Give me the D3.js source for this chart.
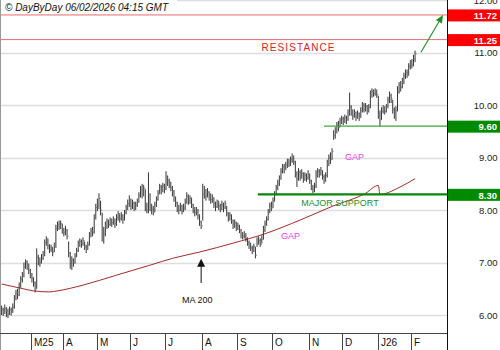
<!DOCTYPE html>
<html><head><meta charset="utf-8">
<script src="https://cdn.jsdelivr.net/npm/d3@7"></script>
<style>
body{margin:0;background:#fff}
svg{display:block}
text{font-family:"Liberation Sans",Arial,Helvetica,sans-serif}
</style>
</head><body>
<svg id="c" width="500" height="350"></svg>
<script>
// ---- data ----
const closes = [
6.10,6.05,6.12,6.08,6.02,6.10,6.06,6.15,6.30,6.42,
6.38,6.55,6.68,6.74,6.92,7.02,6.95,6.85,6.78,6.70,
6.62,6.50,7.10,7.05,7.00,7.08,7.15,7.38,7.45,7.32,
7.25,7.28,7.20,7.30,7.65,7.72,7.68,7.74,7.62,7.58,
7.62,7.50,7.18,6.95,7.05,7.00,7.12,7.22,7.35,7.40,
7.36,7.42,7.30,7.26,7.34,7.52,7.60,7.58,7.85,8.05,
8.10,8.22,8.00,7.62,7.55,7.70,7.78,7.72,7.80,7.76,
7.82,7.74,7.86,7.92,7.84,7.90,7.82,7.94,8.05,8.12,
8.20,8.08,8.14,8.04,8.10,8.16,8.28,8.38,8.30,8.42,
8.10,8.00,8.30,8.08,8.02,7.96,8.10,8.20,8.32,8.44,
8.36,8.46,8.40,8.62,8.56,8.50,8.42,8.36,8.24,8.14,
8.04,8.00,8.08,7.98,8.04,8.16,8.26,8.18,8.22,8.10,
8.02,7.96,8.00,7.90,7.78,7.70,8.30,8.38,8.26,8.34,
8.28,8.20,8.24,8.12,8.06,8.14,8.08,8.02,8.10,8.04,
8.12,7.94,7.86,7.90,7.80,7.72,7.76,7.66,7.70,7.62,
7.54,7.50,7.55,7.46,7.38,7.34,7.28,7.24,7.30,7.14,
7.36,7.42,7.34,7.44,7.62,7.74,7.82,7.96,8.08,8.04,
8.18,8.30,8.42,8.50,8.60,8.74,8.82,8.78,8.86,8.92,
8.88,8.96,9.00,8.92,8.70,8.60,8.72,8.64,8.70,8.58,
8.66,8.62,8.68,8.56,8.44,8.40,8.46,8.66,8.74,8.70,
8.76,8.64,8.58,8.66,8.88,9.00,8.96,9.12,9.42,9.50,
9.62,9.58,9.70,9.74,9.68,9.76,9.72,9.86,9.96,9.88,
9.80,9.86,9.78,9.84,9.76,9.90,10.00,9.92,9.98,9.88,
9.96,10.20,10.26,10.22,10.28,10.20,9.82,9.72,9.88,9.94,
9.88,9.96,10.10,10.18,10.12,9.92,9.80,9.90,10.26,10.38,
10.34,10.44,10.56,10.62,10.58,10.74,10.80,10.76,10.88,10.98];
const highs = [
6.18,6.14,6.20,6.15,6.12,6.16,6.14,6.22,6.38,6.48,
6.50,6.62,6.74,6.82,7.00,7.06,7.04,6.98,6.88,6.80,
6.72,6.64,7.27,7.15,7.10,7.16,7.22,7.44,7.50,7.46,
7.35,7.34,7.30,7.38,7.72,7.78,7.80,7.80,7.74,7.66,
7.70,7.64,7.40,7.20,7.12,7.08,7.18,7.28,7.42,7.46,
7.44,7.48,7.40,7.34,7.40,7.58,7.66,7.68,7.92,8.12,
8.22,8.32,8.18,7.95,7.68,7.78,7.84,7.82,7.86,7.84,
7.88,7.84,7.92,7.98,7.94,7.96,7.92,8.00,8.10,8.20,
8.28,8.22,8.20,8.16,8.16,8.22,8.34,8.46,8.50,8.48,
8.40,8.14,8.72,8.32,8.12,8.08,8.16,8.26,8.38,8.50,
8.48,8.52,8.50,8.74,8.66,8.60,8.54,8.46,8.38,8.26,
8.16,8.10,8.14,8.10,8.12,8.22,8.34,8.30,8.28,8.24,
8.12,8.06,8.06,8.02,7.92,7.80,8.50,8.46,8.40,8.42,
8.36,8.32,8.30,8.24,8.16,8.20,8.18,8.12,8.18,8.14,
8.18,8.08,7.96,7.96,7.92,7.82,7.82,7.78,7.76,7.72,
7.64,7.58,7.60,7.56,7.48,7.42,7.38,7.32,7.36,7.30,
7.48,7.50,7.46,7.52,7.70,7.80,7.88,8.02,8.14,8.16,
8.24,8.36,8.48,8.58,8.66,8.80,8.88,8.88,8.92,8.98,
8.98,9.02,9.08,9.04,8.94,8.74,8.80,8.76,8.78,8.72,
8.72,8.70,8.76,8.70,8.58,8.48,8.52,8.76,8.80,8.78,
8.82,8.76,8.68,8.72,8.96,9.06,9.10,9.18,9.52,9.58,
9.68,9.70,9.76,9.80,9.78,9.82,9.80,9.92,10.24,10.00,
9.92,9.92,9.88,9.90,9.86,9.96,10.06,10.04,10.04,10.00,
10.02,10.28,10.32,10.30,10.32,10.30,10.18,9.90,9.96,10.00,
9.98,10.02,10.16,10.26,10.22,10.10,9.96,9.98,10.36,10.44,
10.46,10.52,10.62,10.68,10.68,10.80,10.86,10.88,10.96,11.04];
const lows = [
6.00,5.98,6.02,5.96,5.94,6.00,5.99,6.04,6.12,6.28,
6.30,6.36,6.52,6.62,6.72,6.88,6.86,6.78,6.70,6.62,
6.54,6.43,6.50,6.95,6.92,6.98,7.05,7.12,7.32,7.25,
7.18,7.20,7.12,7.20,7.28,7.60,7.62,7.64,7.55,7.50,
7.52,7.44,7.10,6.88,6.86,6.92,6.98,7.10,7.20,7.30,
7.28,7.32,7.24,7.18,7.24,7.32,7.48,7.50,7.55,7.82,
7.98,8.02,7.90,7.40,7.36,7.50,7.64,7.66,7.70,7.68,
7.72,7.66,7.70,7.80,7.76,7.80,7.74,7.80,7.92,8.00,
8.06,8.00,8.02,7.98,8.00,8.06,8.14,8.24,8.22,8.26,
7.98,7.94,7.94,7.98,7.92,7.90,7.96,8.06,8.18,8.30,
8.30,8.34,8.32,8.38,8.46,8.42,8.36,8.26,8.16,8.06,
7.96,7.92,7.98,7.92,7.96,8.00,8.12,8.10,8.12,8.04,
7.94,7.88,7.90,7.82,7.70,7.64,7.80,8.22,8.18,8.24,
8.18,8.12,8.14,8.04,7.98,8.04,8.00,7.96,8.00,7.96,
8.02,7.88,7.78,7.80,7.74,7.64,7.66,7.60,7.62,7.56,
7.46,7.44,7.46,7.40,7.32,7.26,7.22,7.16,7.20,7.08,
7.30,7.34,7.30,7.36,7.44,7.58,7.70,7.80,7.94,7.98,
8.04,8.16,8.28,8.38,8.46,8.58,8.70,8.70,8.76,8.80,
8.82,8.84,8.90,8.86,8.62,8.44,8.56,8.56,8.60,8.52,
8.56,8.54,8.58,8.50,8.38,8.32,8.34,8.42,8.62,8.62,
8.66,8.58,8.50,8.54,8.62,8.84,8.88,8.96,9.34,9.36,
9.46,9.50,9.58,9.64,9.62,9.66,9.64,9.70,9.80,9.80,
9.72,9.76,9.70,9.74,9.70,9.76,9.86,9.86,9.88,9.82,
9.86,9.94,10.14,10.16,10.18,10.14,9.74,9.60,9.72,9.84,
9.82,9.86,9.94,10.04,10.04,9.84,9.74,9.70,9.88,10.22,
10.26,10.32,10.40,10.50,10.52,10.56,10.68,10.70,10.74,10.82];
const maIndex = [0,12,20,30,35,51,72,93,107,124,145,166,187,207,228,236,237,249,259];
const maValues = [6.59,6.51,6.46,6.44,6.46,6.57,6.76,6.95,7.08,7.20,7.37,7.56,7.81,8.07,8.32,8.47,8.30,8.43,8.60];
const monthLabels = ["M25","A","M","J","J","A","S","O","N","D","J26","F"];
const monthStart = [19,39,60,81,103,126,148,170,193,214,236,257];
const yTickValues = [6,7,8,9,10,11,12];
const resistanceLevels = [11.72, 11.25];
const supportLevels = [9.60, 8.30];
const titleText = "\u00A9 DayByDay 06/02/2026 04:15 GMT";

// ---- drawing ----
const W = 500, H = 350, plotRight = 447.5, stripTop = 333;
const svg = d3.select("#c");
const x = d3.scaleLinear().domain([-1, 279]).range([0, 447]);
const y = d3.scaleLinear().domain([6, 12]).range([315, 0.25]);
const step = x(1) - x(0);

// gridlines
svg.append("g").selectAll("line").data(yTickValues).join("line")
  .attr("x1", 0).attr("x2", plotRight)
  .attr("y1", d => Math.round(y(d)) + 0.5).attr("y2", d => Math.round(y(d)) + 0.5)
  .attr("stroke", "#dedede").attr("stroke-width", 1.3);

// resistance lines
svg.append("g").selectAll("line").data(resistanceLevels).join("line")
  .attr("x1", 0).attr("x2", plotRight)
  .attr("y1", d => y(d)).attr("y2", d => y(d))
  .attr("stroke", "#e86a6a").attr("stroke-width", 1);

// MA 200
const maData = maIndex.map((d, i) => [d, maValues[i]]);
svg.append("path").datum(maData)
  .attr("d", d3.line().x(d => x(d[0])).y(d => y(d[1])).curve(d3.curveMonotoneX))
  .attr("fill", "none").attr("stroke", "#a52a2a").attr("stroke-width", 1);

// OHLC bars
const bars = svg.append("g");
bars.selectAll("line.hl").data(closes).join("line").attr("class", "hl")
  .attr("x1", (d, i) => x(i)).attr("x2", (d, i) => x(i))
  .attr("y1", (d, i) => y(highs[i])).attr("y2", (d, i) => y(lows[i]))
  .attr("stroke", "#2a2a2a").attr("stroke-width", 0.95);
bars.selectAll("line.cl").data(closes).join("line").attr("class", "cl")
  .attr("x1", (d, i) => x(i)).attr("x2", (d, i) => x(i) + step)
  .attr("y1", d => y(d)).attr("y2", d => y(d))
  .attr("stroke", "#777").attr("stroke-width", 0.9);

// support lines
svg.append("line").attr("x1", x(202)).attr("x2", plotRight)
  .attr("y1", y(supportLevels[0])).attr("y2", y(supportLevels[0]))
  .attr("stroke", "#3aa63a").attr("stroke-width", 1.1);
svg.append("line").attr("x1", x(160.5)).attr("x2", plotRight)
  .attr("y1", y(supportLevels[1])).attr("y2", y(supportLevels[1]))
  .attr("stroke", "#0a870a").attr("stroke-width", 2.4);

// annotations
const ann = svg.append("g").attr("font-size", 9).attr("text-anchor", "middle").attr("dominant-baseline", "central");
ann.append("text").attr("x", x(186)).attr("y", y(11.1)).attr("fill", "#e02020")
  .attr("font-size", 10).attr("letter-spacing", 1.1).text("RESISTANCE");
ann.append("text").attr("x", x(221)).attr("y", y(9.02)).attr("fill", "#f03cf0").text("GAP");
ann.append("text").attr("x", x(181)).attr("y", y(7.5)).attr("fill", "#f03cf0").text("GAP");
ann.append("text").attr("x", x(212)).attr("y", y(8.13)).attr("fill", "#1e8f1e").text("MAJOR SUPPORT");
ann.append("text").attr("x", x(122.5)).attr("y", y(6.29)).attr("fill", "#111").text("MA 200");

// black arrow to MA
const ax = x(125);
svg.append("line").attr("x1", ax).attr("x2", ax).attr("y1", y(6.61)).attr("y2", y(7.0))
  .attr("stroke", "#111").attr("stroke-width", 1);
svg.append("path").attr("d", `M${ax},${y(7.07)} L${ax - 4},${y(7.07) + 8} L${ax + 4},${y(7.07) + 8}Z`).attr("fill", "#111");

// green target arrow
const g0 = [x(262.7), y(11.01)], g1 = [x(276.5), y(11.72)];
const ang = Math.atan2(g1[1] - g0[1], g1[0] - g0[0]);
const hl = 8, hw = 3.5;
const bx = g1[0] - hl * Math.cos(ang), by = g1[1] - hl * Math.sin(ang);
svg.append("line").attr("x1", g0[0]).attr("y1", g0[1]).attr("x2", bx).attr("y2", by)
  .attr("stroke", "#1a8f1a").attr("stroke-width", 1.1);
svg.append("path").attr("d",
  `M${g1[0]},${g1[1]} L${bx - hw * Math.sin(ang)},${by + hw * Math.cos(ang)} L${bx + hw * Math.sin(ang)},${by - hw * Math.cos(ang)}Z`)
  .attr("fill", "#1a8f1a");

// frame
svg.append("line").attr("x1", 0.5).attr("x2", 0.5).attr("y1", 0).attr("y2", H).attr("stroke", "#999");
svg.append("line").attr("x1", 0).attr("x2", plotRight).attr("y1", stripTop + 0.5).attr("y2", stripTop + 0.5).attr("stroke", "#444");
svg.append("line").attr("x1", plotRight).attr("x2", plotRight).attr("y1", 0).attr("y2", H).attr("stroke", "#111");

// month strip
const months = svg.append("g");
months.selectAll("line").data(monthStart).join("line")
  .attr("x1", d => Math.round(x(d) - step / 2) + 0.5).attr("x2", d => Math.round(x(d) - step / 2) + 0.5)
  .attr("y1", stripTop).attr("y2", H).attr("stroke", "#444");
months.selectAll("text").data(monthStart).join("text")
  .attr("x", d => Math.round(x(d) - step / 2) + 3).attr("y", 346)
  .attr("font-size", 10).attr("fill", "#111")
  .text((d, i) => monthLabels[i]);

// right axis labels
const yAxis = d3.axisRight(y).tickValues(yTickValues).tickFormat(d3.format(".2f")).tickSize(0).tickPadding(0);
const ag = svg.append("g").attr("transform", `translate(${plotRight},0)`).call(yAxis);
ag.select(".domain").remove();
ag.selectAll("text").attr("x", 50).attr("text-anchor", "end").attr("font-size", 9.5)
  .attr("fill", "#222").attr("font-family", null);

// badges
const badges = [...resistanceLevels.map(v => ({v, c: "#ff0000"})), ...supportLevels.map(v => ({v, c: "#008a00"}))];
const bg = svg.append("g").selectAll("g").data(badges).join("g");
bg.append("rect").attr("x", plotRight + 0.5).attr("width", W - plotRight).attr("y", d => y(d.v) - 5.5).attr("height", 12)
  .attr("fill", d => d.c);
bg.append("text").attr("x", 497).attr("y", d => y(d.v) + 0.7).attr("text-anchor", "end").attr("dominant-baseline", "central")
  .attr("font-size", 9.5).attr("font-weight", "bold").attr("fill", "#fff").text(d => d3.format(".2f")(d.v));

// title
svg.append("rect").attr("x", 1).attr("y", 0).attr("width", 176).attr("height", 13).attr("fill", "#fff");
svg.append("text").attr("x", 5).attr("y", 11).attr("font-size", 10).attr("font-style", "italic").attr("fill", "#111").text(titleText);
</script>
</body></html>
